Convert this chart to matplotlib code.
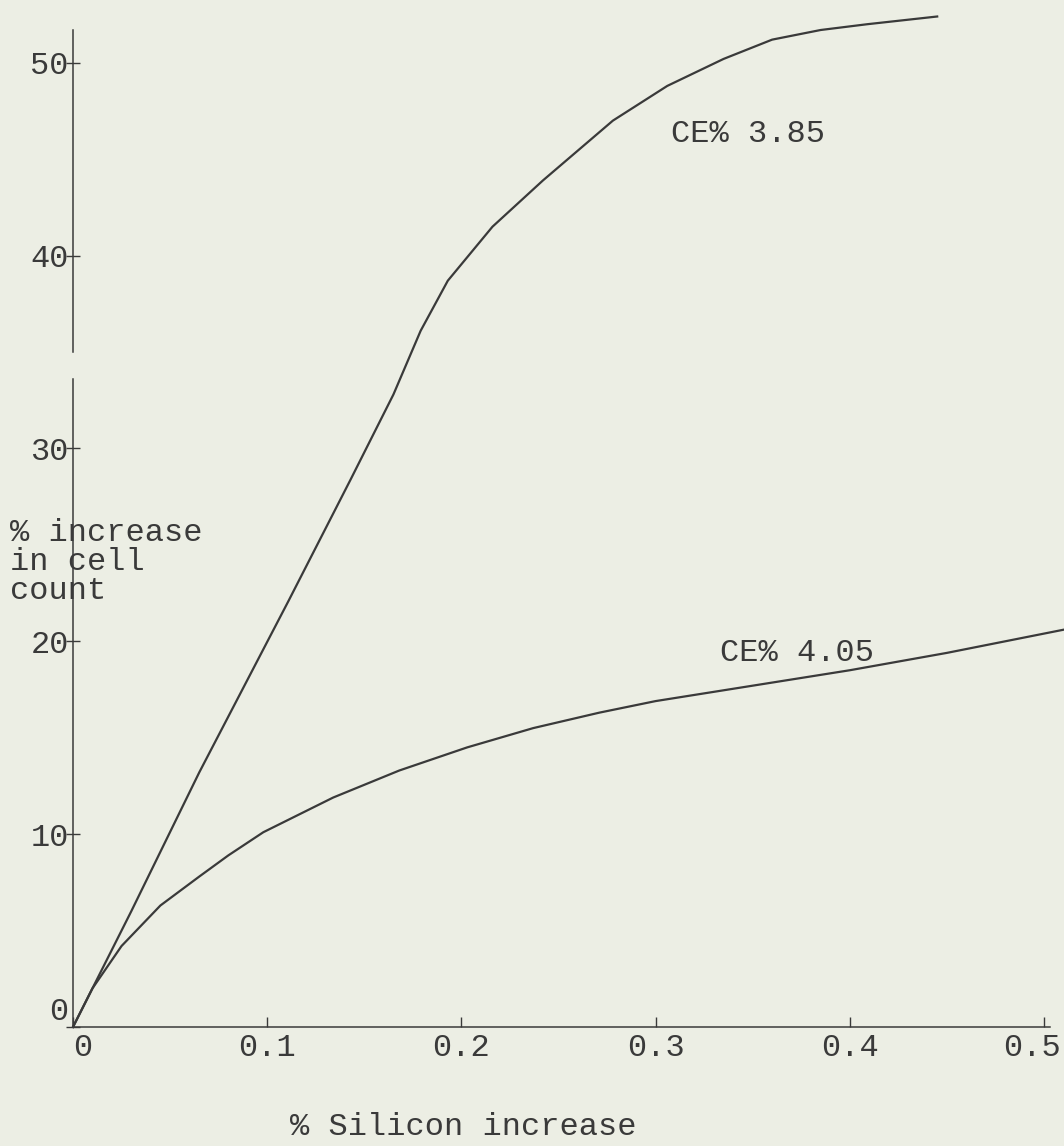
import matplotlib.pyplot as plt
from matplotlib.transforms import ScaledTranslation

# values
si_385 = [0, 0.03, 0.065, 0.111, 0.143, 0.165, 0.179, 0.193, 0.216, 0.242, 0.278, 0.306, 0.335, 0.36, 0.385, 0.409, 0.445]
cell_385 = [0, 6.0, 13.2, 22.1, 28.4, 32.8, 36.1, 38.7, 41.5, 43.9, 47.0, 48.8, 50.2, 51.2, 51.7, 52.0, 52.4]
si_405 = [0, 0.01, 0.025, 0.045, 0.065, 0.08, 0.098, 0.134, 0.168, 0.203, 0.237, 0.271, 0.3, 0.35, 0.4, 0.45, 0.51]
cell_405 = [0, 2.0, 4.2, 6.3, 7.8, 8.9, 10.1, 11.9, 13.3, 14.5, 15.5, 16.3, 16.9, 17.7, 18.5, 19.4, 20.6]
x_ticks = [0, 0.1, 0.2, 0.3, 0.4, 0.5]
x_tick_labels = ['0', '0.1', '0.2', '0.3', '0.4', '0.5']
y_ticks = [0, 10, 20, 30, 40, 50]
y_tick_labels = ['0', '10', '20', '30', '40', '50']

paper = '#eceee4'
ink = '#3a3a3a'
font = 'Liberation Mono'
fs = 23

W, H = 1064, 1146
fig = plt.figure(figsize=(W / 100, H / 100), dpi=100, facecolor=paper)
# axes placed so the origin sits where the hand-drawn one is
ax = fig.add_axes([73 / W, (H - 1027) / H, 971 / W, 997 / H])
ax.set_facecolor(paper)
ax.set_xlim(0, 0.5)
ax.set_ylim(0, 51.7)

for s in ax.spines.values():
    s.set_visible(False)

# hand drawn axes (the y axis has a small gap near 34)
ax.plot([0, 0.503], [0, 0], color=ink, lw=1.1, clip_on=False)
ax.plot([0, 0], [0, 33.6], color=ink, lw=1.1, clip_on=False)
ax.plot([0, 0], [35.0, 51.7], color=ink, lw=1.1, clip_on=False)

# curves
ax.plot(si_385, cell_385, color=ink, lw=1.6, clip_on=False)
ax.plot(si_405, cell_405, color=ink, lw=1.6, clip_on=False)

ax.set_xticks(x_ticks)
ax.set_xticklabels(x_tick_labels, family=font, fontsize=fs, color=ink)
ax.set_yticks(y_ticks)
ax.set_yticklabels(y_tick_labels, family=font, fontsize=fs, color=ink)
ax.tick_params(axis='x', direction='in', length=7, width=1.0, color=ink, pad=4)
ax.tick_params(axis='y', direction='inout', length=10, width=1.0, color=ink, pad=-2)
# typed zeros sit a little off the corner, last label is squeezed at the edge
ax.get_yticklabels()[0].set_va('bottom')
ax.get_xticklabels()[0].set_ha('left')
last = ax.get_xticklabels()[-1]
last.set_transform(last.get_transform() + ScaledTranslation(-0.12, 0, fig.dpi_scale_trans))

ax.text(0.308, 46.3, 'CE% 3.85', family=font, fontsize=fs, color=ink, va='center')
ax.text(0.333, 19.4, 'CE% 4.05', family=font, fontsize=fs, color=ink, va='center')

fig.text(10 / W, 1 - 562 / H, '% increase\nin cell\ncount', family=font, fontsize=fs,
         color=ink, ha='left', va='center', linespacing=0.95)
fig.text(463 / W, 1 - 1127 / H, '% Silicon increase', family=font, fontsize=fs,
         color=ink, ha='center', va='center')

fig.savefig('out.png', dpi=100, facecolor=paper)
